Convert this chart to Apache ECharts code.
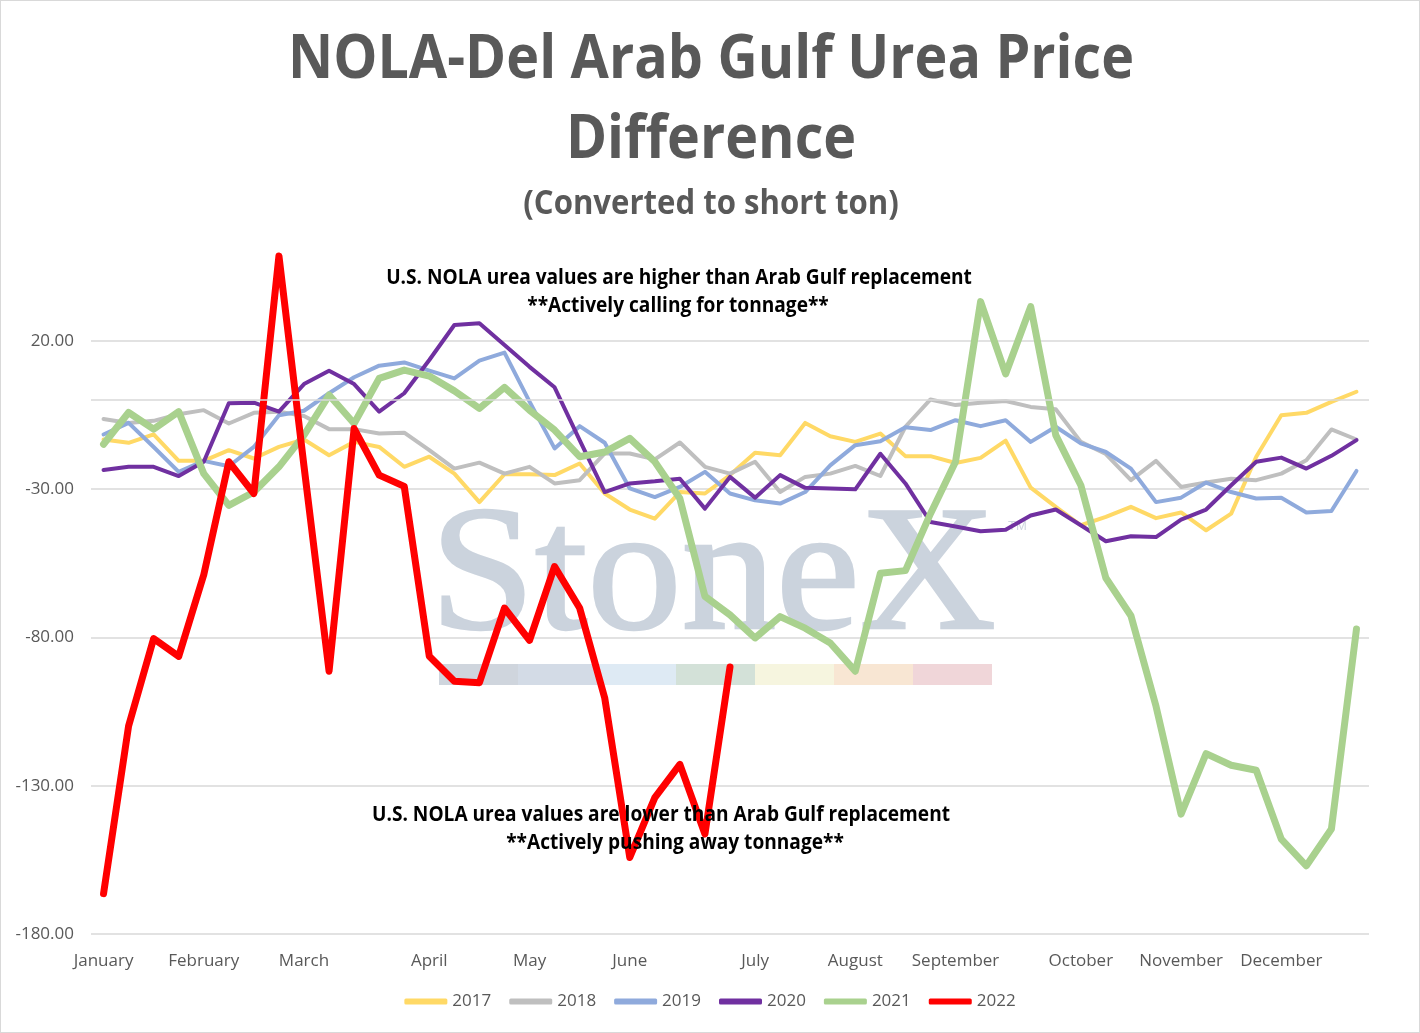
<!DOCTYPE html>
<html>
<head>
<meta charset="utf-8">
<title>NOLA-Del Arab Gulf Urea Price Difference</title>
<script src="https://cdn.jsdelivr.net/npm/echarts@6.0.0/dist/echarts.min.js"></script>
<style>
  html, body { margin: 0; padding: 0; background: #fff; }
  #chart { width: 1420px; height: 1033px; box-sizing: border-box; border: 1px solid #d9d9d9; }
</style>
</head>
<body>
<div id="chart"></div>
<script>
// weekly points, 51 per year
const weeks = Array.from({ length: 51 }, (_, i) => 'W' + (i + 1));
const monthLabels = ['January', 'February', 'March', 'April', 'May', 'June',
  'July', 'August', 'September', 'October', 'November', 'December'];
const monthStartWeek = [0, 4, 8, 13, 17, 21, 26, 30, 34, 39, 43, 47];

const y2017 = [-13.3, -14.4, -11.6, -20.5, -20.5, -16.9, -19.7, -15.8, -13.3, -18.6,
  -14.1, -15.8, -22.5, -19.1, -24.8, -34.4, -25, -25, -25.3, -21.4,
  -31.5, -36.9, -40, -31, -31.5, -25.3, -17.8, -18.6, -7.7, -12.2,
  -14.1, -11.3, -18.9, -18.9, -21.2, -19.5, -13.7, -29.5, -36, -42.2,
  -39.4, -36, -39.8, -37.9, -43.9, -38.3, -19.1, -5.1, -4.3, -0.6, 2.8];
const y2018 = [-6.4, -7.7, -7, -4.8, -3.4, -7.9, -4.3, -3.9, -5.4, -9.8,
  -9.8, -11.3, -11, -16.9, -23.1, -21.1, -24.8, -22.5, -28.1, -27,
  -18, -18, -20, -14.3, -22.5, -24.8, -20.8, -31, -25.9, -24.8,
  -22.2, -25.6, -9, 0.2, -1.7, -0.9, -0.3, -2.3, -3.1, -14.1,
  -18.2, -27, -20.5, -29.3, -27.8, -26.5, -27, -24.8, -20.3, -9.9, -13.3];
const y2019 = [-11.6, -7.7, -15.8, -24.2, -20.5, -22.3, -15.8, -5.1, -3.6, 2.3,
  7.7, 11.6, 12.7, 9.9, 7.3, 13.3, 16, -0.5, -16.3, -8.8,
  -14.4, -29.8, -32.7, -29.3, -24.2, -31.5, -33.8, -34.9, -31, -22,
  -15.2, -13.9, -9.2, -10.1, -6.8, -8.8, -6.8, -14.1, -9, -14.6,
  -17.5, -23.1, -34.4, -32.9, -27.8, -31, -33.2, -32.9, -37.9, -37.4, -23.9];
const y2020 = [-23.6, -22.5, -22.5, -25.6, -20.8, -1.1, -0.9, -3.9, 5.4, 9.9,
  5.4, -3.9, 2.3, 13.5, 25.3, 25.9, 18.6, 11.2, 4.3, -13.5,
  -31, -28.1, -27.4, -26.5, -36.6, -25.9, -32.9, -25.3, -29.6, -29.8,
  -30.1, -18.1, -28.1, -41.1, -42.6, -44.2, -43.7, -38.9, -36.9, -42.2,
  -47.6, -45.9, -46.2, -40.3, -36.9, -28.7, -20.8, -19.4, -23.1, -18.8, -13.5];
const y2021 = [-14.9, -4.2, -9.8, -3.9, -24.8, -35.5, -31, -22.5, -11.8, 1.7,
  -7.9, 7.3, 10.1, 8.1, 3.1, -2.8, 4.3, -3.4, -10.1, -19.1,
  -17.5, -12.9, -20.8, -33.2, -66.2, -72.4, -80.2, -73, -76.9, -81.9,
  -91.4, -58.4, -57.5, -38.3, -20.8, 33.2, 8.8, 31.5, -11.8, -28.7,
  -60, -72.7, -103.2, -139.6, -119.2, -123.1, -124.8, -148, -157, -144.6, -77.2];
const y2022 = [-166.4, -109.9, -80.4, -86.4, -58.9, -20.8, -31.5, 48.6, -22.3, -91.4,
  -9.6, -25.3, -29.1, -86.4, -94.8, -95.3, -70.1, -81, -56.1, -70.1,
  -100.4, -154.2, -134, -122.8, -146.3, -90];

const yMin = -180, yMax = 50, yStep = 50;

const years = [
  { name: '2017', data: y2017, color: '#ffd966', width: 4 },
  { name: '2018', data: y2018, color: '#bfbfbf', width: 4 },
  { name: '2019', data: y2019, color: '#8faadc', width: 4 },
  { name: '2020', data: y2020, color: '#7030a0', width: 4 },
  { name: '2021', data: y2021, color: '#a9d18e', width: 7 },
  { name: '2022', data: y2022, color: '#ff0000', width: 7 }
];

const FONT = '"Open Sans", sans-serif';
const GRID = '#d9d9d9';

// headings and notes; squeezed a bit to get closer to the narrow original face
const texts = [
  { text: 'NOLA-Del Arab Gulf Urea Price', x: 710, y: 60, size: 60, sx: 0.927, color: '#595959' },
  { text: 'Difference', x: 710, y: 140, size: 60, sx: 0.927, color: '#595959' },
  { text: '(Converted to short ton)', x: 710, y: 203, size: 34, sx: 0.915, color: '#595959' },
  { text: 'U.S. NOLA urea values are higher than Arab Gulf replacement', x: 678, y: 277, size: 21, sx: 0.91, color: '#000' },
  { text: '**Actively calling for tonnage**', x: 677, y: 305, size: 21, sx: 0.91, color: '#000' },
  { text: 'U.S. NOLA urea values are lower than Arab Gulf replacement', x: 660, y: 814, size: 21, sx: 0.91, color: '#000' },
  { text: '**Actively pushing away tonnage**', x: 674, y: 842, size: 21, sx: 0.91, color: '#000' }
].map(t => ({
  type: 'text', x: t.x, y: t.y, scaleX: t.sx, z: 10, silent: true,
  style: { text: t.text, font: 'bold ' + t.size + 'px ' + FONT, fill: t.color, align: 'center', verticalAlign: 'middle' }
}));

// faint StoneX mark behind the lines
const barColors = ['#cfd5dd', '#d3dbe6', '#deeaf4', '#d3e1d8', '#f6f5df', '#f8e6d3', '#f0d6d9'];
const watermark = [
  {
    type: 'text', x: 429, y: 491, scaleX: 1.06, z: -1, silent: true,
    style: {
      text: 'StoneX', font: '178px "Liberation Serif", "DejaVu Serif", serif',
      fill: '#cbd3dd', stroke: '#cbd3dd', lineWidth: 2.5, align: 'left', verticalAlign: 'top'
    }
  },
  {
    type: 'text', x: 1007, y: 519, z: -1, silent: true,
    style: { text: 'TM', font: '13px "Liberation Sans", sans-serif', fill: '#cfd6df', align: 'left', verticalAlign: 'top' }
  }
].concat(barColors.map((c, i) => ({
  type: 'rect', left: 438 + i * 79, top: 663, z: -1, silent: true,
  shape: { width: 79, height: 21 }, style: { fill: c }
})));

const chart = echarts.init(document.getElementById('chart'));
chart.setOption({
  animation: false,
  backgroundColor: '#fff',
  graphic: watermark.concat(texts),
  legend: {
    bottom: 17, left: 'center',
    icon: 'roundRect', itemWidth: 43, itemHeight: 6, itemGap: 18,
    textStyle: { fontFamily: FONT, fontSize: 17, color: '#595959' },
    data: years.map(y => y.name)
  },
  grid: { left: 90, right: 50, top: 250.75, bottom: 98, containLabel: false },
  xAxis: {
    type: 'category',
    data: weeks,
    boundaryGap: true,
    axisLine: { show: false },
    axisTick: { show: false },
    splitLine: { show: false },
    axisLabel: {
      interval: 0, margin: 19,
      fontFamily: FONT, fontSize: 17, color: '#595959',
      formatter: (v, i) => {
        const k = monthStartWeek.indexOf(i);
        return k >= 0 ? monthLabels[k] : '';
      }
    }
  },
  yAxis: {
    type: 'value',
    min: yMin, max: yMax, interval: yStep,
    axisLine: { show: false },
    axisTick: { show: false },
    axisLabel: {
      margin: 17, showMaxLabel: false,
      fontFamily: FONT, fontSize: 17, color: '#595959',
      formatter: v => (v > 20 ? '' : v.toFixed(2))
    },
    splitLine: { lineStyle: { color: [GRID, GRID, GRID, GRID, GRID, 'rgba(0,0,0,0)'], width: 1.5 } }
  },
  series: years.map((y, idx) => ({
    name: y.name,
    type: 'line',
    data: y.data,
    showSymbol: false,
    symbol: 'none',
    smooth: false,
    color: y.color,
    lineStyle: { color: y.color, width: y.width, cap: 'round', join: 'round' },
    emphasis: { disabled: true },
    markLine: idx === 0 ? {
      silent: true, symbol: 'none', label: { show: false },
      lineStyle: { color: GRID, width: 1.5, type: 'solid' },
      data: [{ yAxis: 0 }]
    } : undefined
  }))
});
</script>
</body>
</html>
